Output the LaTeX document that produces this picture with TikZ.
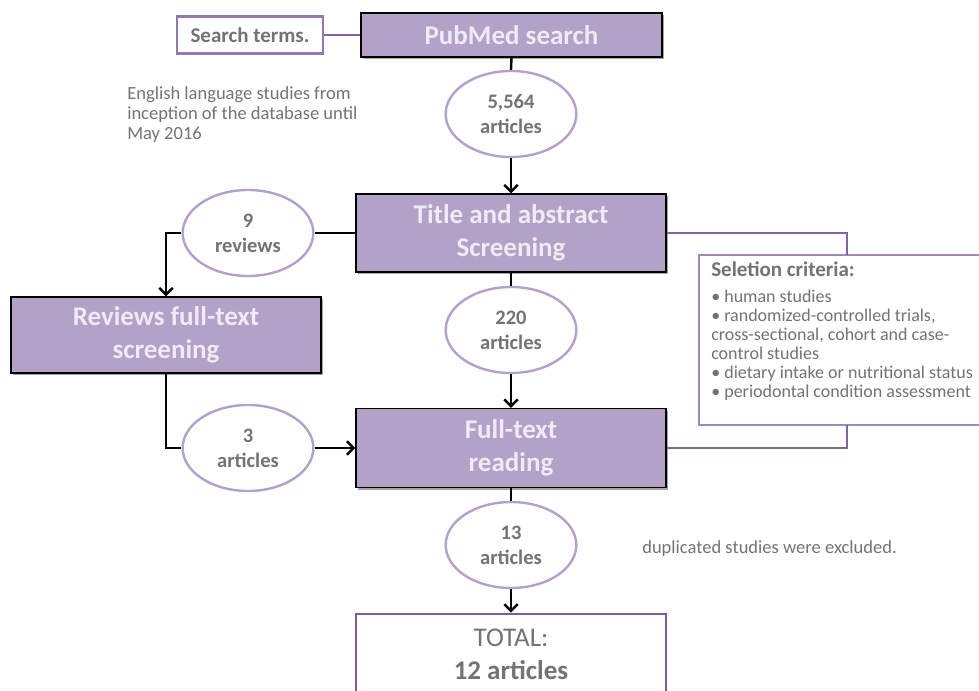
\documentclass[tikz,border=0pt]{standalone}
\usepackage{fontspec}
\setmainfont{Carlito}
\usetikzlibrary{shapes.geometric,arrows.meta,shadows}
\definecolor{pfill}{HTML}{B3A2C7}
\definecolor{pline}{HTML}{8064A2}
\definecolor{ptext}{HTML}{F0EAF5}
\definecolor{gtext}{HTML}{737373}
\definecolor{eline}{HTML}{B4A0CA}
\definecolor{sline}{HTML}{9279B0}
\definecolor{tline}{HTML}{7B5E99}
\definecolor{cline}{HTML}{A089BA}
\begin{document}
\begin{tikzpicture}[x=0.75pt,y=-0.75pt,
  pbox/.style={rectangle,draw=black,line width=1.1pt,fill=pfill,text=ptext,
    font=\fontsize{20.25}{24.75}\selectfont\bfseries,align=center,
    minimum width=232.5pt,minimum height=58.5pt,inner sep=0pt,
    drop shadow={shadow xshift=1.6pt,shadow yshift=-1.6pt,opacity=0.35,fill=black}},
  ell/.style={ellipse,draw=eline,line width=1.8pt,fill=white,text=gtext,
    font=\fontsize{15.4}{18.75}\selectfont\bfseries,align=center,
    minimum width=98pt,minimum height=64.5pt,inner sep=0pt},
  conn/.style={line width=1.8pt,draw=black},
  arr/.style={conn,-{Straight Barb[length=5pt,width=10pt]}},
  pconn/.style={line width=2.2pt,draw=pline},
  note/.style={text=gtext,font=\fontsize{13.9}{14.25}\selectfont,anchor=base west,inner sep=0pt},
  critline/.style={text=gtext,font=\fontsize{13.5}{14.25}\selectfont,anchor=base west,inner sep=0pt},
  crit/.style={text=gtext,font=\fontsize{15.75}{18}\selectfont\bfseries,anchor=base west,inner sep=0pt}
]
\useasboundingbox (0,0) rectangle (979,691);
\clip (0,0) rectangle (979,691);

% boxes
\node[rectangle,draw=sline,line width=1.8pt,fill=white,text=gtext,
  font=\fontsize{15.75}{18}\selectfont\bfseries,minimum width=109.5pt,
  minimum height=27.75pt,inner sep=0pt] (search) at (250,35) {Search terms.};
\node[pbox,minimum width=225.75pt,minimum height=33pt] (pubmed) at (511.5,35) {PubMed search};
\node[ell] (e5564) at (511,114) {5,564\\articles};
\node[pbox] (title) at (511,233) {Title and abstract\\Screening};
\node[ell] (e9) at (248,233) {9\\reviews};
\node[pbox,minimum height=57pt] (reviews) at (166,335) {Reviews full-text\\screening};
\node[ell] (e220) at (511,330) {220\\articles};
\node[ell] (e3) at (248,448) {3\\articles};
\node[pbox,minimum height=59.25pt] (full) at (511,448) {Full-text\\reading};
\node[ell] (e13) at (511,545) {13\\articles};
\node[rectangle,draw=tline,line width=2.2pt,fill=white,minimum width=232.5pt,
  minimum height=64.5pt,inner sep=0pt] (total) at (511,657) {};
\node[text=gtext,font=\fontsize{20.25}{24}\selectfont,inner sep=0pt] (totl) at (511,638) {TOTAL:};
\node[text=gtext,font=\fontsize{20.25}{24}\selectfont\bfseries,inner sep=0pt] (totn) at (511,670) {12 articles};

% criteria box
\node[rectangle,draw=cline,line width=1.5pt,fill=white,minimum width=212.25pt,
  minimum height=127.5pt,inner sep=0pt,
  drop shadow={shadow xshift=1pt,shadow yshift=-1pt,opacity=0.2,fill=black}] (criteria) at (840.5,340) {};
\coordinate (crtop) at (847,255);
\coordinate (crbot) at (847,425);
\node[crit] (ct) at (711,277) {Seletion criteria:};
\node[critline] (c1) at (711,303) {• human studies};
\node[critline] (c2) at (711,322) {• randomized-controlled trials,};
\node[critline] (c3) at (711,341) {cross-sectional, cohort and case-};
\node[critline] (c4) at (711,360) {control studies};
\node[critline] (c5) at (711,379) {• dietary intake or nutritional status};
\node[critline] (c6) at (711,398) {• periodontal condition assessment};

% notes
\node[note] (n1) at (127,100) {English language studies from};
\node[note] (n2) at (127,120) {inception of the database until};
\node[note] (n3) at (127,140) {May 2016};
\node[note] (dup) at (642,554) {duplicated studies were excluded.};

% connectors
\draw[pconn] (search.east) -- (pubmed.west);
\draw[conn] (pubmed.south) -- (e5564.north);
\draw[arr] (e5564.south) -- (title.north);
\draw[conn] (title.west) -- (e9.east);
\draw[arr] (e9.west) -| (reviews.north);
\draw[conn] (reviews.south) |- (e3.west);
\draw[arr] (e3.east) -- (full.west);
\draw[conn] (title.south) -- (e220.north);
\draw[arr] (e220.south) -- (full.north);
\draw[conn] (full.south) -- (e13.north);
\draw[arr] (e13.south) -- (total.north);
\draw[pconn] (title.east) -| (crtop);
\draw[pconn] (full.east) -| (crbot);
\end{tikzpicture}
\end{document}
